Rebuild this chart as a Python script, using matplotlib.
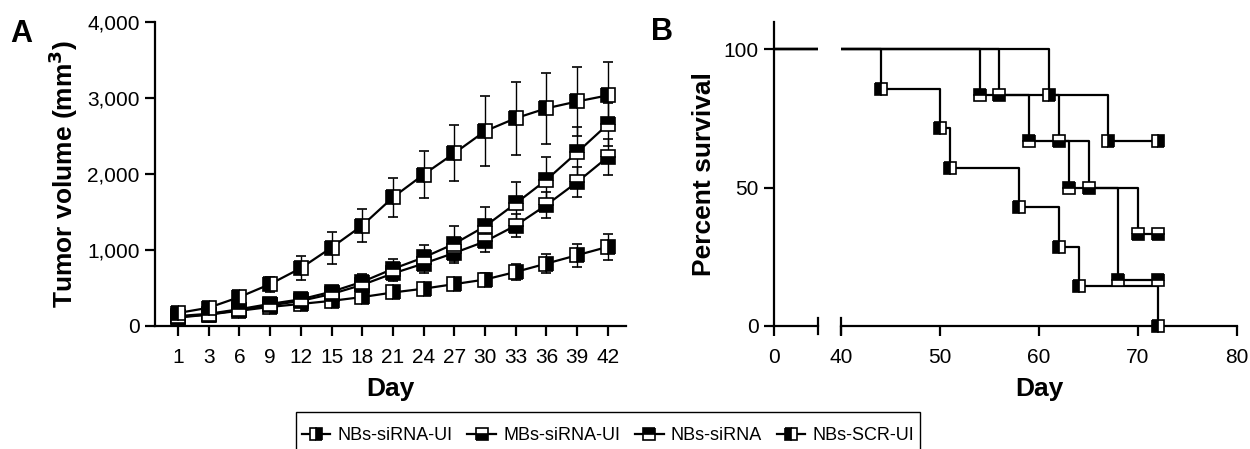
import matplotlib
matplotlib.use("Agg")
import matplotlib.pyplot as plt
from matplotlib.lines import Line2D
from matplotlib.patches import Rectangle

plt.rcParams['font.family'] = ['Liberation Sans', 'DejaVu Sans']

# ---- data: panel A (tumor volume, mm3) ----
days = [1, 3, 6, 9, 12, 15, 18, 21, 24, 27, 30, 33, 36, 39, 42]

vol_scr = [170, 240, 380, 550, 760, 1030, 1320, 1690, 1990, 2270, 2560, 2730, 2860, 2950, 3030]
err_scr = [30, 40, 50, 100, 160, 210, 220, 260, 310, 370, 460, 480, 470, 450, 440]

vol_nbs = [130, 160, 220, 290, 350, 450, 580, 750, 900, 1080, 1310, 1610, 1920, 2280, 2650]
err_nbs = [30, 30, 40, 50, 60, 80, 100, 130, 170, 230, 250, 280, 300, 330, 280]

vol_mbs_ui = [120, 150, 210, 270, 330, 420, 540, 690, 820, 960, 1110, 1320, 1590, 1890, 2220]
err_mbs_ui = [30, 30, 40, 40, 50, 60, 80, 100, 120, 130, 140, 150, 170, 200, 240]

vol_nbs_ui = [110, 150, 200, 250, 290, 330, 380, 440, 490, 550, 610, 710, 820, 930, 1040]
err_nbs_ui = [30, 30, 30, 40, 40, 50, 60, 60, 70, 80, 80, 110, 130, 150, 170]

# ---- data: panel B (percent survival) ----
t_nbs_ui = [0, 61, 67, 72]
s_nbs_ui = [100, 83.3, 66.7, 66.7]
t_mbs_ui = [0, 56, 62, 65, 70, 72]
s_mbs_ui = [100, 83.3, 66.7, 50, 33.3, 33.3]
t_nbs = [0, 54, 59, 63, 68, 72]
s_nbs = [100, 83.3, 66.7, 50, 16.7, 16.7]
t_scr = [0, 44, 50, 51, 58, 62, 64, 72]
s_scr = [100, 85.7, 71.4, 57.1, 42.9, 28.6, 14.3, 0]

labels = ['NBs-siRNA-UI', 'MBs-siRNA-UI', 'NBs-siRNA', 'NBs-SCR-UI']
fills = ['right', 'bottom', 'top', 'left']

groups_a = [(vol_nbs_ui, err_nbs_ui), (vol_mbs_ui, err_mbs_ui), (vol_nbs, err_nbs), (vol_scr, err_scr)]
groups_b = [(t_nbs_ui, s_nbs_ui), (t_mbs_ui, s_mbs_ui), (t_nbs, s_nbs), (t_scr, s_scr)]

mk = dict(marker='s', markersize=9, markeredgewidth=1.2, markeredgecolor='black',
          markerfacecolor='black', markerfacecoloralt='white')

LBL = 19
TCK = 15

fig = plt.figure(figsize=(12.5, 4.49), dpi=100)

# ---------------- panel A ----------------
# days are drawn as evenly spaced categories
xpos = list(range(len(days)))
axA = fig.add_axes([0.124, 0.274, 0.377, 0.678])
for (v, e), fs in zip(groups_a, fills):
    axA.errorbar(xpos, v, yerr=e, color='black', lw=1.6, elinewidth=1, capsize=3.5,
                 capthick=1, fillstyle=fs, zorder=3, **{**mk, 'markersize': 10})
axA.set_xlim(-0.75, 14.6)
axA.set_ylim(0, 4000)
axA.set_xticks(xpos)
axA.set_xticklabels([str(d) for d in days])
axA.set_yticks([0, 1000, 2000, 3000, 4000])
axA.set_yticklabels(['0', '1,000', '2,000', '3,000', '4,000'])
axA.set_xlabel('Day', fontsize=LBL, fontweight='bold', labelpad=7)
axA.set_ylabel('Tumor volume (mm$^\\mathbf{3}$)', fontsize=LBL, fontweight='bold', labelpad=5)
for s in ['top', 'right']:
    axA.spines[s].set_visible(False)
for s in ['left', 'bottom']:
    axA.spines[s].set_linewidth(1.6)
axA.tick_params(width=1.6, length=7, labelsize=TCK, pad=4)
axA.tick_params(axis='x', pad=9)

# ---------------- panel B (broken x axis) ----------------
axB1 = fig.add_axes([0.619, 0.274, 0.0352, 0.678])
axB2 = fig.add_axes([0.6728, 0.274, 0.3168, 0.678])
for ax in (axB1, axB2):
    for (t, s), fs in zip(groups_b, fills):
        ax.step(t, s, where='post', color='black', lw=1.6, zorder=2)
        ax.plot(t[1:], s[1:], ls='none', fillstyle=fs, zorder=3, clip_on=False, **mk)
    ax.set_ylim(0, 110)
    ax.spines['top'].set_visible(False)
    ax.spines['right'].set_visible(False)
    ax.spines['bottom'].set_linewidth(1.6)
    ax.tick_params(width=1.6, length=7, labelsize=TCK, pad=4)
    ax.tick_params(axis='x', pad=9)

axB1.set_xlim(0, 4.5)
axB1.set_xticks([0])
axB1.set_yticks([0, 50, 100])
axB1.spines['left'].set_linewidth(1.6)
axB1.set_ylabel('Percent survival', fontsize=LBL, fontweight='bold', labelpad=5)

axB2.set_xlim(40, 80)
axB2.set_xticks([40, 50, 60, 70, 80])
axB2.spines['left'].set_visible(False)
axB2.set_yticks([])
axB2.set_xlabel('Day', fontsize=LBL, fontweight='bold', labelpad=7)

# break marks
for ax, xb in ((axB1, 4.5), (axB2, 40)):
    ax.plot([xb, xb], [-3, 3], color='black', lw=1.6, clip_on=False, zorder=4)

# panel letters
fig.text(0.008, 0.906, 'A', fontsize=22, fontweight='bold')
fig.text(0.521, 0.911, 'B', fontsize=22, fontweight='bold')

# legend: entries without frame, box drawn separately (runs off the bottom edge)
handles = [Line2D([], [], color='black', lw=1.6, fillstyle=fs, **mk) for fs in fills]
fig.legend(handles, labels, loc='center', bbox_to_anchor=(0.4864, 0.029),
           ncol=4, frameon=False, fontsize=13, handlelength=1.6,
           handletextpad=0.4, columnspacing=0.8, borderpad=0, borderaxespad=0)
fig.add_artist(Rectangle((296 / 1250, -0.05), 624 / 1250, 0.05 + 0.0824,
                         transform=fig.transFigure, fill=False, lw=1.0, ec='black'))

fig.savefig('out.png', dpi=100)
